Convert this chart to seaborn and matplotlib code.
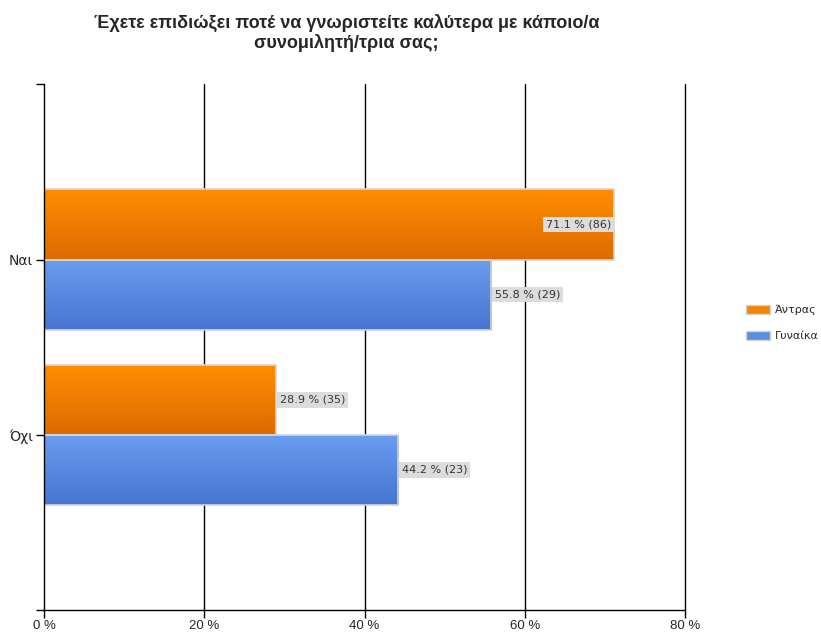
import numpy as np
import pandas as pd
import matplotlib
matplotlib.use("Agg")
import matplotlib.pyplot as plt
import matplotlib.patches as mpatches
import seaborn as sns

# ==============================
# DATA
# ==============================

categories = ["Ναι", "Όχι"]
groups = ["Άντρας", "Γυναίκα"]
men_pct = [71.1, 28.9]
men_n = [86, 35]
women_pct = [55.8, 44.2]
women_n = [29, 23]
x_ticks = [0, 20, 40, 60, 80]

title = "Έχετε επιδιώξει ποτέ να γνωριστείτε καλύτερα με κάποιο/α\nσυνομιλητή/τρια σας;"

df = pd.DataFrame({
    "answer": categories * 2,
    "group": [groups[0]] * 2 + [groups[1]] * 2,
    "pct": men_pct + women_pct,
    "n": men_n + women_n,
})

# colours: (legend, gradient top, gradient bottom)
colors = {
    "Άντρας": ("#F58400", "#FF8E00", "#DC6A00"),
    "Γυναίκα": ("#5B8DE6", "#6A9CF0", "#4676D0"),
}

narrow = ["Liberation Sans Narrow", "Liberation Sans", "DejaVu Sans"]

# ==============================
# PLOT
# ==============================

sns.set_style("white")
plt.rcParams["font.family"] = ["DejaVu Sans"]

fig = plt.figure(figsize=(8.21, 6.33), dpi=100)
ax = fig.add_axes([0.0536, 0.036, 0.7808, 0.831])

sns.barplot(data=df, y="answer", x="pct", hue="group", order=categories,
            hue_order=groups, orient="h", width=0.8, dodge=True,
            palette={g: colors[g][0] for g in groups}, legend=False, ax=ax,
            edgecolor="#D4D4D4", linewidth=1.2, errorbar=None)

# gradient fill, one image per bar, clipped to the bar
for grp, container in zip(groups, ax.containers):
    top = np.array(matplotlib.colors.to_rgb(colors[grp][1]))
    bot = np.array(matplotlib.colors.to_rgb(colors[grp][2]))
    t = np.linspace(0, 1, 64)[:, None]
    grad = (top[None, :] * (1 - t) + bot[None, :] * t)[:, None, :]
    for patch in container:
        x0, y0 = patch.get_x(), patch.get_y()
        w, h = patch.get_width(), patch.get_height()
        im = ax.imshow(grad, extent=(x0, x0 + w, y0 + h, y0), origin="upper",
                       aspect="auto", zorder=2)
        im.set_clip_path(patch)
        patch.set_facecolor("none")
        patch.set_zorder(3)

ax.set_xlim(0, 80)
ax.set_ylim(2, -1)

# value labels
bar_h = 0.4
for i, cat in enumerate(categories):
    for j, (pcts, ns) in enumerate([(men_pct, men_n), (women_pct, women_n)]):
        v = pcts[i]
        yc = i - bar_h / 2 + j * bar_h
        txt = f"{v:.1f} % ({ns[i]})"
        inside = v > 62
        ax.text(v - 0.3 if inside else v + 0.5, yc, txt,
                ha="right" if inside else "left", va="center", fontsize=8,
                color="#333333", zorder=5,
                bbox=dict(boxstyle="square,pad=0.25", fc="#DCDCDC", ec="none"))

# vertical grid lines (drawn unclipped so the 80 % line shows fully)
for t in x_ticks[1:]:
    ax.axvline(t, color="black", linewidth=1, zorder=1, clip_on=False)

# axes styling
ax.set_xticks(x_ticks)
ax.set_xticklabels([f"{t} %" for t in x_ticks], fontsize=9.5, family=narrow)
ax.set_yticks(range(len(categories)))
ax.set_yticklabels(categories, fontsize=10)
ax.set_yticks([-1, 2], minor=True)
ax.tick_params(axis="both", which="both", length=6, width=1, color="black",
               direction="out", left=True, bottom=True)
ax.tick_params(axis="y", pad=2)
ax.tick_params(axis="x", pad=1)
ax.grid(False)
ax.set_xlabel("")
ax.set_ylabel("")
for side in ["top", "right"]:
    ax.spines[side].set_visible(False)
for side in ["left", "bottom"]:
    ax.spines[side].set_color("black")
    ax.spines[side].set_linewidth(1)
    ax.spines[side].set_zorder(4)

fig.text(0.422, 0.978, title, ha="center", va="top", fontsize=13,
         fontweight="bold", linespacing=1.15, family=narrow)

handles = [mpatches.Patch(facecolor=colors[g][0], edgecolor="#D4D4D4", label=g)
           for g in groups]
fig.legend(handles=handles, loc="center left", bbox_to_anchor=(0.903, 0.49),
           frameon=False, fontsize=8, handlelength=2.2, handleheight=0.9,
           handletextpad=0.4, labelspacing=1.4, borderaxespad=0)

fig.savefig("out.png", dpi=100)
